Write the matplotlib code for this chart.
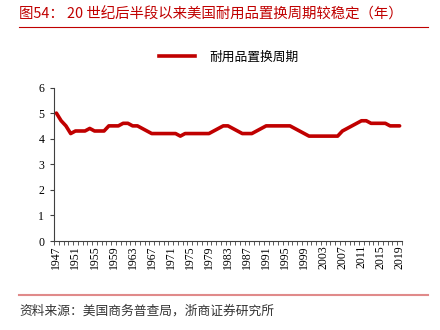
import matplotlib
matplotlib.use("Agg")
import matplotlib.pyplot as plt
from matplotlib.lines import Line2D

years = list(range(1947, 2020))
cycle = [5.0, 4.7, 4.5, 4.2, 4.3, 4.3, 4.3, 4.4, 4.3, 4.3,
         4.3, 4.5, 4.5, 4.5, 4.6, 4.6, 4.5, 4.5, 4.4, 4.3,
         4.2, 4.2, 4.2, 4.2, 4.2, 4.2, 4.1, 4.2, 4.2, 4.2,
         4.2, 4.2, 4.2, 4.3, 4.4, 4.5, 4.5, 4.4, 4.3, 4.2,
         4.2, 4.2, 4.3, 4.4, 4.5, 4.5, 4.5, 4.5, 4.5, 4.5,
         4.4, 4.3, 4.2, 4.1, 4.1, 4.1, 4.1, 4.1, 4.1, 4.1,
         4.3, 4.4, 4.5, 4.6, 4.7, 4.7, 4.6, 4.6, 4.6, 4.6,
         4.5, 4.5, 4.5]
series_name = "耐用品置换周期"
title = "图54： 20 世纪后半段以来美国耐用品置换周期较稳定（年）"
source = "资料来源：美国商务普查局，浙商证券研究所"
label_years = years[::4]

cjk = ["Noto Sans CJK SC", "DejaVu Sans"]
serif = ["Liberation Serif", "DejaVu Serif"]

fig = plt.figure(figsize=(4.4, 3.3), dpi=100)
ax = fig.add_axes([54/440, 1-241/330, (402-54)/440, (241-87.5)/330])

x = list(range(len(years)))
ax.plot(x, cycle, color="#C00000", lw=2.6, solid_capstyle="round", solid_joinstyle="round")
ax.set_xlim(-0.5, len(years) - 0.5)
ax.set_ylim(0, 6)
ax.set_yticks(range(0, 7))
ax.set_yticklabels([str(v) for v in range(0, 7)], fontfamily=serif, fontsize=8.5)
ax.tick_params(axis="y", direction="out", length=3, width=0.8, color="#404040", pad=4)

# Year boundary tick marks (major, unlabeled), labels at centers (minor, no marks)
ax.set_xticks([i - 0.5 for i in range(len(years) + 1)])
ax.set_xticklabels([])
ax.tick_params(axis="x", which="major", direction="out", length=3, width=0.6, color="#404040")
lab_pos = [years.index(y) for y in label_years]
ax.set_xticks(lab_pos, minor=True)
ax.set_xticklabels([str(y) for y in label_years], minor=True, rotation=90,
                   fontfamily=serif, fontsize=8.5)
ax.tick_params(axis="x", which="minor", length=0, pad=3)

for s in ["top", "right"]:
    ax.spines[s].set_visible(False)
for s in ["left", "bottom"]:
    ax.spines[s].set_color("#404040")
    ax.spines[s].set_linewidth(0.8)

handle = Line2D([0], [0], color="#C00000", lw=2.6)
fig.legend([handle], [series_name], loc="center", bbox_to_anchor=(0.52, 1-57/330),
           frameon=False, prop={"family": cjk, "size": 9.2}, handlelength=2.8,
           handletextpad=1.1)

fig.text(19/440, 1-14/330, title, color="#C00000", fontfamily=cjk, fontsize=10.4,
         va="center", ha="left")
fig.add_artist(Line2D([19/440, 428/440], [1-27/330, 1-27/330], color="#C00000", lw=0.8))
fig.add_artist(Line2D([19/440, 428/440], [1-295/330, 1-295/330], color="#E08A8A", lw=1.5))
fig.text(19/440, 1-311/330, source, color="#333333", fontfamily=cjk, fontsize=9.2,
         va="center", ha="left")

fig.savefig("out.png", dpi=100)
